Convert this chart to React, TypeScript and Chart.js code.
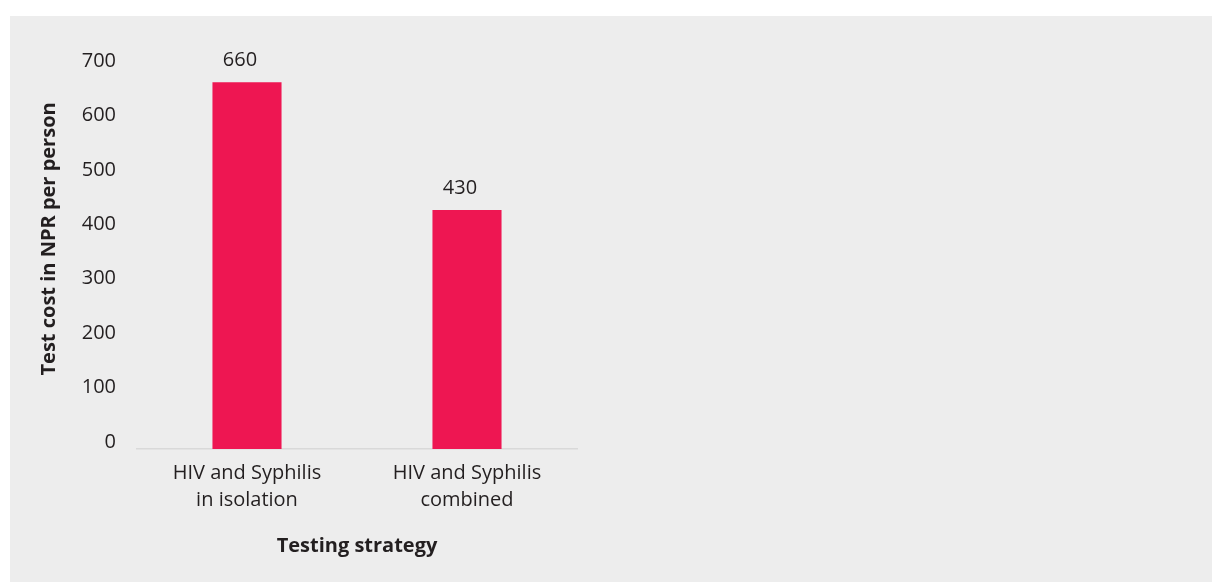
import { useEffect, useRef } from "react";
import { Chart, registerables } from "chart.js";

Chart.register(...registerables);

// ---- data ----
const categories: string[][] = [
  ["HIV and Syphilis", "in isolation"],
  ["HIV and Syphilis", "combined"],
];
const costValues: number[] = [660, 430];
const yTickValues: number[] = [0, 100, 200, 300, 400, 500, 600, 700];
const yAxisTitle = "Test cost in NPR per person";
const xAxisTitle = "Testing strategy";

const FONT = "'Open Sans', 'Noto Sans', sans-serif";
const TEXT = "#231f20";
const BAR = "#ee1652";

const valueLabels = {
  id: "valueLabels",
  afterDatasetsDraw(chart: any) {
    const ctx = chart.ctx;
    const meta = chart.getDatasetMeta(0);
    const data = chart.data.datasets[0].data;
    ctx.save();
    ctx.font = `20px ${FONT}`;
    ctx.fillStyle = TEXT;
    ctx.textAlign = "center";
    ctx.textBaseline = "alphabetic";
    meta.data.forEach((bar: any, i: number) => {
      ctx.fillText(String(data[i]), bar.x - 7, bar.y - 16);
    });
    ctx.restore();
  },
};

export default function App() {
  const canvasRef = useRef<HTMLCanvasElement | null>(null);

  useEffect(() => {
    document.body.style.overflow = "hidden";
    const canvas = canvasRef.current;
    if (!canvas) return;
    const chart = new Chart(canvas, {
      type: "bar",
      data: {
        labels: categories,
        datasets: [
          {
            data: costValues,
            backgroundColor: BAR,
            borderWidth: 0,
            yAxisID: "y",
            categoryPercentage: 1,
            barPercentage: 0.314,
          },
        ],
      },
      options: {
        animation: false,
        responsive: true,
        maintainAspectRatio: false,
        layout: { padding: { left: 0, right: 635, top: 44, bottom: 0 } },
        plugins: {
          legend: { display: false },
          tooltip: { enabled: false },
        },
        scales: {
          x: {
            type: "category",
            grid: { display: false, drawTicks: false },
            border: { display: true, color: "#d9d9d9", width: 1.5 },
            ticks: {
              font: { family: FONT, size: 20, lineHeight: 1.35 },
              color: TEXT,
              padding: 11,
              maxRotation: 0,
              autoSkip: false,
            },
            title: {
              display: true,
              text: xAxisTitle,
              color: TEXT,
              font: { family: FONT, size: 20, weight: "bold", lineHeight: 1.2 },
              padding: { top: 20, bottom: 24 },
            },
            afterFit: (s: any) => {
              s.height = 133;
            },
          },
          y: {
            display: false,
            min: 0,
            max: 700,
          },
          y2: {
            position: "left",
            min: -12.86,
            max: 701.84,
            grid: { display: false, drawTicks: false },
            border: { display: false },
            afterBuildTicks: (s: any) => {
              s.ticks = yTickValues.map((v) => ({ value: v }));
            },
            ticks: {
              font: { family: FONT, size: 20 },
              color: TEXT,
              padding: 21,
              callback: (v: any) => String(v),
            },
            title: {
              display: true,
              text: "      " + yAxisTitle,
              color: TEXT,
              font: { family: FONT, size: 20, weight: "bold", lineHeight: 1.2 },
              padding: { top: 27, bottom: 0 },
            },
            afterFit: (s: any) => {
              s.width = 127;
            },
          },
        },
      },
      plugins: [valueLabels],
    } as any);
    return () => chart.destroy();
  }, []);

  return (
    <div
      style={{
        position: "absolute",
        left: 10,
        top: 16,
        width: 1202,
        height: 566,
        background: "#ededed",
      }}
    >
      <canvas ref={canvasRef} />
    </div>
  );
}
